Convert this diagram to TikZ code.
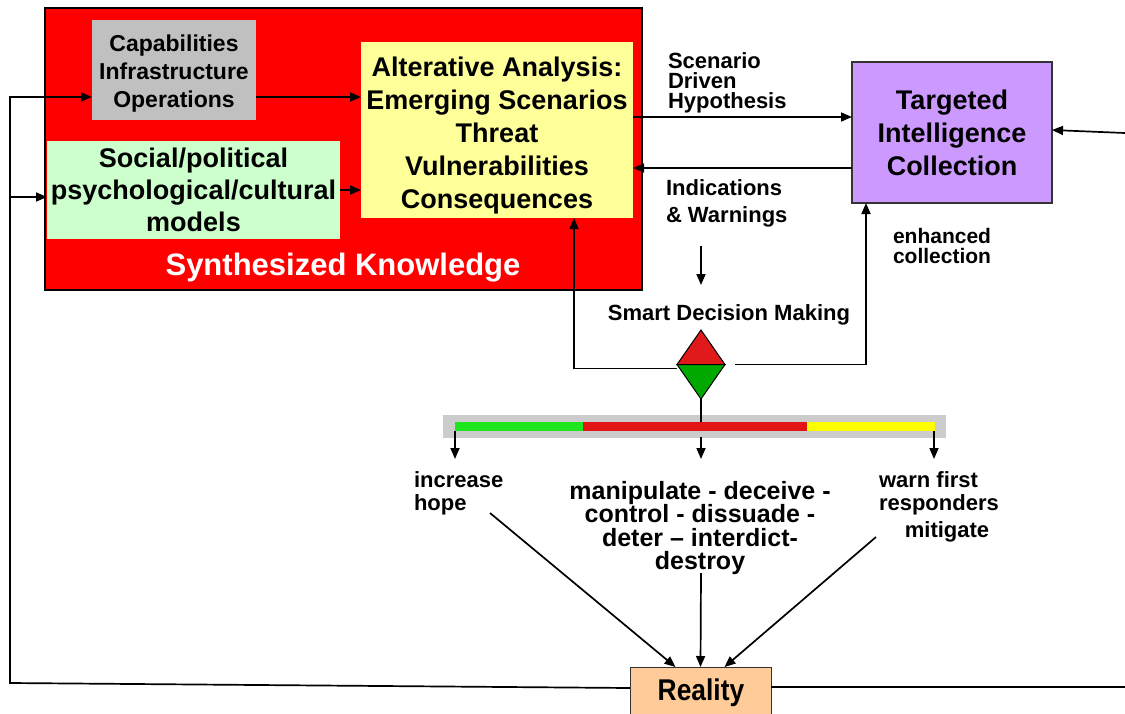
\documentclass[tikz,border=0pt]{standalone}
\usepackage{fontspec}
\setmainfont{Liberation Sans}
\usetikzlibrary{arrows.meta,calc}
\newcommand{\fsz}[2]{\fontsize{#1}{#2}\selectfont\bfseries}
\definecolor{capgrey}{HTML}{C0C0C0}
\definecolor{socgreen}{HTML}{CCFFCC}
\definecolor{anayellow}{HTML}{FFFF99}
\definecolor{tigpurple}{HTML}{CC99FF}
\definecolor{realorange}{HTML}{FFCC99}
\definecolor{dmred}{HTML}{E01A1A}
\definecolor{dmgreen}{HTML}{00A800}
\definecolor{bargrey}{HTML}{CCCCCC}
\definecolor{bargreen}{HTML}{1EE61E}
\definecolor{barred}{HTML}{E31414}
\definecolor{baryellow}{HTML}{FFFF00}
\begin{document}
\begin{tikzpicture}[x=1pt,y=-1pt,
  arr/.style={line width=1.7pt, -{Triangle[length=11pt,width=9pt]}},
  ln/.style={line width=1.7pt},
  boxn/.style={inner sep=0pt, outer sep=0pt, align=center},
  lbl/.style={inner sep=0pt, outer sep=0pt}]
\useasboundingbox (0,0) rectangle (1125,713);
\fill[white] (0,0) rectangle (1125,713);

% Synthesized knowledge block
\node[boxn, fill=red, draw=black, line width=1.5pt, minimum width=597pt, minimum height=282pt] (sk) at (343.5,149) {};
\node[boxn, fill=capgrey, minimum width=164pt, minimum height=100pt] (cap) at (174,70) {};
\node[lbl, align=center, font=\fsz{23}{28}] (capt) at (174,74) {Capabilities\\Infrastructure\\Operations};
\node[boxn, fill=socgreen, minimum width=293pt, minimum height=98pt, font=\fsz{27}{32}] (soc) at (193.5,190) {Social/political\\psychological/cultural\\models};
\node[boxn, fill=anayellow, minimum width=272pt, minimum height=176pt] (ana) at (497,130) {};
\node[lbl, align=center, font=\fsz{27}{33}] (anat) at (497,136) {Alterative Analysis:\\Emerging Scenarios\\Threat\\Vulnerabilities\\Consequences};
\node[lbl, text=white, font=\fsz{31}{36}] (skl) at (343,268) {Synthesized Knowledge};

% Targeted intelligence collection
\node[boxn, fill=tigpurple, draw=black!80, line width=1.2pt, minimum width=200pt, minimum height=141pt, font=\fsz{27}{33}] (tic) at (952,132.5) {Targeted\\Intelligence\\Collection};

% labels
\node[lbl, anchor=west, align=left, font=\fsz{22}{20}] (sdh) at (668,82.5) {Scenario\\Driven\\Hypothesis};
\node[lbl, anchor=west, align=left, font=\fsz{22}{27}] (iw) at (666,203) {Indications\\\& Warnings};
\node[lbl, anchor=west, align=left, font=\fsz{21}{20}] (enh) at (893,246) {enhanced\\collection};
\node[lbl, font=\fsz{22}{26}] (sdm) at (729,315) {Smart Decision Making};

% diamond
\node[inner sep=0pt, outer sep=0pt, minimum width=48pt, minimum height=69pt] (dmd) at (701,364.5) {};
\filldraw[fill=dmred, draw=black, line width=1pt] (dmd.north) -- (dmd.east) -- (dmd.west) -- cycle;
\filldraw[fill=dmgreen, draw=black, line width=1pt] (dmd.south) -- (dmd.east) -- (dmd.west) -- cycle;

% bar
\node[inner sep=0pt, outer sep=0pt, fill=bargrey, minimum width=503pt, minimum height=23pt] (bar) at (694.5,426.5) {};
\fill[bargreen] (455,422) rectangle (583,431);
\fill[barred] (583,422) rectangle (807,431);
\fill[baryellow] (807,422) rectangle (935,431);

% outcome labels
\node[lbl, anchor=west, align=left, font=\fsz{22}{23}] (hope) at (414,493) {increase\\hope};
\node[lbl, align=center, font=\fsz{25}{23.5}] (mani) at (700,528) {manipulate - deceive -\\control - dissuade -\\deter -- interdict-\\destroy};
\node[lbl, anchor=west, align=left, font=\fsz{22}{23}] (warn) at (879,493) {warn first\\responders};
\node[lbl, font=\fsz{22}{26}] (miti) at (947,532) {mitigate};

% reality
\node[boxn, fill=realorange, draw=black!80, line width=1pt, minimum width=141pt, minimum height=50pt] (real) at (700.5,692) {};
\node[lbl, font={\fontsize{30}{32}\selectfont\bfseries\addfontfeature{FakeStretch=0.88}}] (realt) at (701,693) {Reality};

% coordinates for free ends
\coordinate (c1) at (256,97);
\coordinate (c2) at (340,190);
\coordinate (h1) at (633,117);
\coordinate (w1) at (852,168);
\coordinate (iwa) at (701,246);
\coordinate (iwb) at (701,285);
\coordinate (aIn) at (574,218);
\coordinate (tIn) at (866,203);
\coordinate (rin) at (1125,133);
\coordinate (fbA) at (10,683);
\coordinate (fbB) at (10,97);
\coordinate (fbC) at (10,197);
\coordinate (rout) at (1125,687);
\coordinate (barTop) at (701,422);
\coordinate (b1) at (455,431);
\coordinate (b1e) at (455,459);
\coordinate (b2) at (701,437);
\coordinate (b2e) at (701,459);
\coordinate (b3) at (934,431);
\coordinate (b3e) at (934,459);
\coordinate (hA) at (490,513);
\coordinate (mA) at (701,573);
\coordinate (wA) at (876,537);

% connectors
\draw[arr] (c1) -- (c1 -| ana.west);
\draw[arr] (c2) -- (c2 -| ana.west);
\draw[arr] (h1) -- (h1 -| tic.west);
\draw[arr] (w1) -- (w1 -| ana.east);
\draw[arr] (iwa) -- (iwb);
\draw[arr] ($(dmd.west)+(0,4)$) -| (aIn);
\draw[arr] ($(dmd.east)+(10,0)$) -| (tIn);
\draw[arr] (rin) -- ($(tic.east)+(0,-2.5)$);
\draw[ln] (dmd.south) -- (barTop);
\draw[arr] (b1) -- (b1e);
\draw[arr] (b2) -- (b2e);
\draw[arr] (b3) -- (b3e);
\draw[arr] (hA) -- ($(real.north)+(-25,0)$);
\draw[arr] (mA) -- (real.north);
\draw[arr] (wA) -- ($(real.north)+(24,0)$);
\draw[arr] ($(real.west)+(0,-4)$) -- (fbA) -- (fbB) -- (fbB -| cap.west);
\draw[arr] (fbC) -- (fbC -| soc.west);
\draw[ln] ($(real.east)+(0,-5)$) -- (rout);
\end{tikzpicture}
\end{document}
